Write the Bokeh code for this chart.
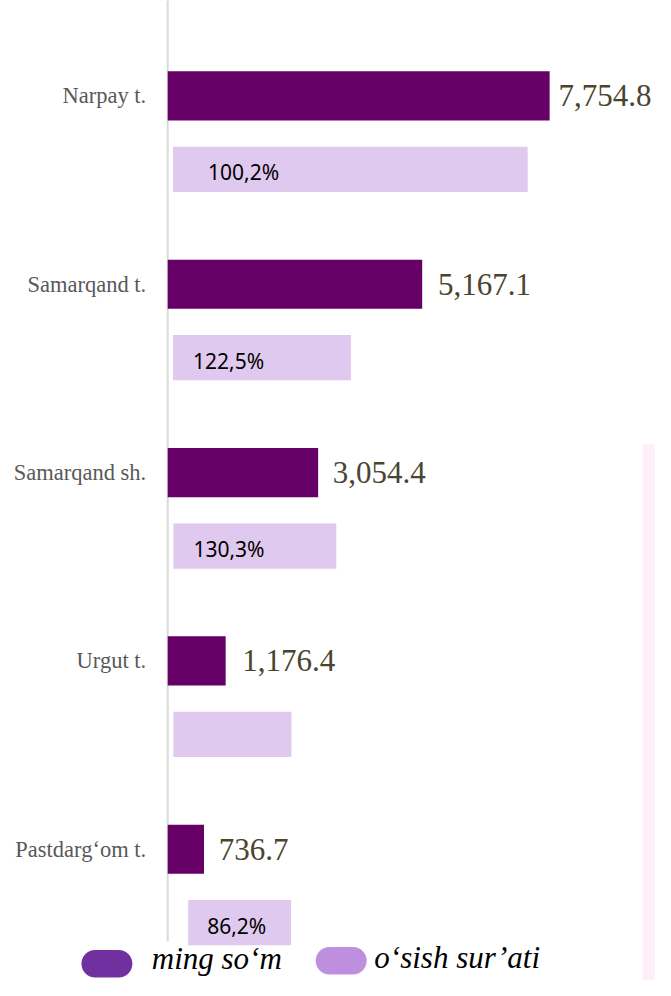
from bokeh.plotting import figure
from bokeh.models import ColumnDataSource, Range1d
from bokeh.core.properties import value
from bokeh.embed import file_html
from bokeh.resources import INLINE

# ---- data ----
regions = ["Narpay t.", "Samarqand t.", "Samarqand sh.", "Urgut t.", "Pastdarg‘om t."]
values = [7754.8, 5167.1, 3054.4, 1176.4, 736.7]
value_labels = ["7,754.8", "5,167.1", "3,054.4", "1,176.4", "736.7"]
growth_labels = ["100,2%", "122,5%", "130,3%", "", "86,2%"]
growth_bar_left = [107, 107, 115, 115, 416]
growth_bar_right = [7308, 3720, 3423, 2511, 2505]
legend_labels = ["ming so‘m", "o‘sish sur’ati"]

# ---- geometry helpers (reference pixel -> data) ----
X0, U = 171.3, 19.82
Y0, V = 97.0, 191.4
def dx(px):
    return (px - X0) * U
def dy(py):
    return (py - Y0) / V

W, H = 655, 980
S = 0.98  # screen-size scale

p = figure(width=W, height=H, output_backend="svg", toolbar_location=None,
           x_range=Range1d(dx(0), dx(671)), y_range=Range1d(dy(996), dy(0)),
           x_axis_location=None, y_axis_location=None, min_border=0,
           outline_line_color=None, background_fill_color="white",
           border_fill_color="white")
p.xgrid.visible = False
p.ygrid.visible = False

idx = list(range(len(regions)))
GOFF = 0.39
src = ColumnDataSource(dict(
    y=idx, yg=[i + GOFF for i in idx], val=values, vlab=value_labels,
    reg=regions, gl=growth_labels, gleft=growth_bar_left, gright=growth_bar_right,
    zero=[0] * len(idx),
))

# pink strip at right edge
p.quad(left=dx(658), right=dx(690), top=dy(451), bottom=dy(1010),
       fill_color="#fdf0fb", line_color=None)

# axis line
p.segment(x0=0, y0=dy(-5), x1=0, y1=dy(956), line_color="#d9d9d9", line_width=2)

# bars
p.hbar(y="y", left=0, right="val", height=0.261, source=src,
       fill_color="#660066", line_color=None)
p.hbar(y="yg", left="gleft", right="gright", height=0.24, source=src,
       fill_color="#e0c9ee", line_color=None)

# category labels
p.text(x="zero", y="y", text="reg", source=src, x_offset=-22 * S,
       text_align="right", text_baseline="middle",
       text_font=value("Liberation Serif"), text_font_size="22.5px",
       text_color="#595959")

# value labels
off_src = ColumnDataSource(dict(x=values, y=idx, t=value_labels,
                                off=[9 * S, 16 * S, 15 * S, 17 * S, 15 * S]))
p.text(x="x", y="y", text="t", source=off_src, x_offset="off",
       text_align="left", text_baseline="middle",
       text_font=value("Liberation Serif"), text_font_size="31px",
       text_color="#4a452e")

# growth labels
gl_src = ColumnDataSource(dict(x=growth_bar_left, y=[i + GOFF for i in idx],
                               t=growth_labels, off=[35, 20, 20, 20, 19]))
p.text(x="x", y="y", text="t", source=gl_src, x_offset="off", y_offset=3,
       text_align="left", text_baseline="middle",
       text_font=value("Noto Sans"), text_font_size="21px", text_color="#000000")

# legend
p.rect(x=[dx(109), dx(349)], y=[dy(979), dy(976)], width=52 * S, height=28 * S,
       width_units="screen", height_units="screen", border_radius=14,
       fill_color=["#7030a0", "#bf8fdf"], line_color=None)
p.text(x=[dx(155), dx(383)], y=[dy(974), dy(973)], text=legend_labels,
       text_align="left", text_baseline="middle",
       text_font=value("Liberation Serif"), text_font_size="31px",
       text_font_style="italic", text_color="#000000")

open("out.html", "w").write(file_html(p, INLINE))
